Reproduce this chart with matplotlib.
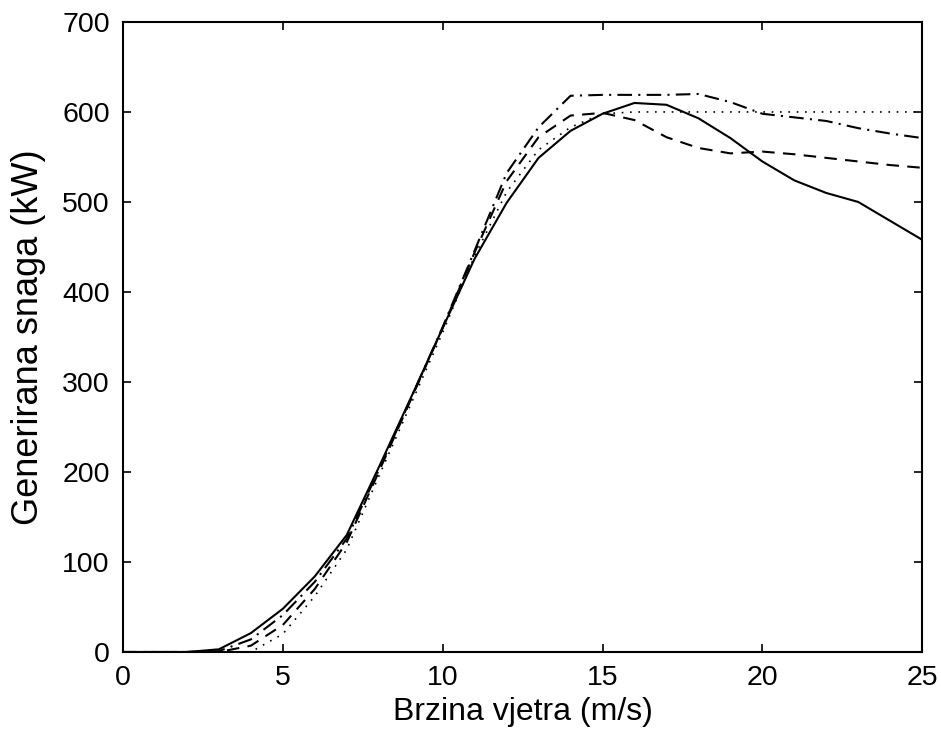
import matplotlib
matplotlib.use("Agg")
import matplotlib.pyplot as plt

plt.rcParams['font.family'] = ['Liberation Sans', 'DejaVu Sans']

wind = list(range(0, 26))
p_solid = [0, 0, 0, 3, 21, 48, 84, 130, 205, 282, 360, 437, 499, 549, 579, 598,
           610, 608, 593, 571, 545, 524, 510, 500, 479, 458]
p_dashed = [0, 0, 0, 0, 7, 30, 70, 122, 200, 280, 360, 444, 523, 572, 596, 599,
            591, 572, 560, 554, 556, 553, 549, 545, 541, 538]
p_dashdot = [0, 0, 0, 1, 14, 41, 78, 126, 202, 281, 361, 446, 532, 583, 618, 619,
             619, 619, 620, 611, 598, 594, 590, 582, 576, 571]
p_dotted = [0, 0, 0, 0, 0, 20, 62, 114, 195, 275, 355, 440, 511, 558, 583, 598,
            600, 600, 600, 600, 600, 600, 600, 600, 600, 600]

xticks = [0, 5, 10, 15, 20, 25]
yticks = [0, 100, 200, 300, 400, 500, 600, 700]
xlabel = "Brzina vjetra (m/s)"
ylabel = "Generirana snaga (kW)"

fig = plt.figure(figsize=(9.41, 7.42), dpi=100)
ax = fig.add_axes([0.1307, 0.1213, 0.8493, 0.8491])

lw = 1.5
ax.plot(wind, p_solid, color='black', lw=lw, linestyle='-')
ax.plot(wind, p_dashed, color='black', lw=lw, linestyle=(0, (6, 4)))
ax.plot(wind, p_dashdot, color='black', lw=lw, linestyle=(0, (7, 3, 1, 3)))
ax.plot(wind, p_dotted, color='black', lw=1.2, linestyle=(0, (1, 4)))

ax.set_xlim(0, 25)
ax.set_ylim(0, 700)
ax.set_xticks(xticks)
ax.set_yticks(yticks)
ax.set_xticklabels([str(v) for v in xticks])
ax.set_yticklabels([str(v) for v in yticks])
ax.tick_params(direction='in', length=6, width=1.2, labelsize=20.5, top=True, right=True, pad=9.5)
for s in ax.spines.values():
    s.set_linewidth(1.5)

ax.set_xlabel(xlabel, fontsize=23, labelpad=4)
ax.set_ylabel(ylabel, fontsize=26, labelpad=12)

fig.savefig("out.png", dpi=100)
